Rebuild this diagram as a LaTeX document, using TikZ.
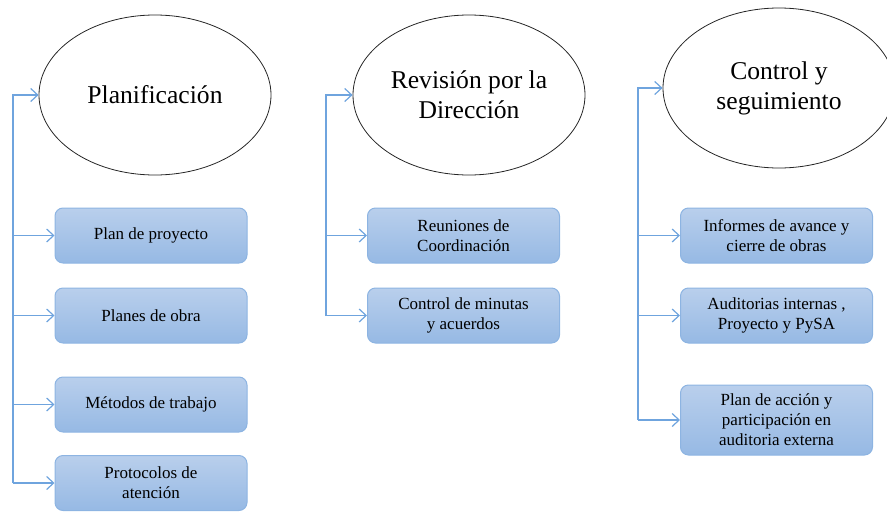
\documentclass[tikz,border=0pt]{standalone}
\usepackage{fontspec}
\setmainfont{Liberation Serif}
\usetikzlibrary{positioning, shapes.geometric, arrows.meta}
\definecolor{lineColor}{RGB}{111,164,222}
\definecolor{boxBorder}{RGB}{141,180,226}
\definecolor{boxTop}{RGB}{185,207,236}
\definecolor{boxBottom}{RGB}{150,185,228}
\tikzset{
  sheet/.style = {x = 1pt, y = -1pt},
  stageStyle/.style = {ellipse, draw=black!85, line width=.8pt, minimum width=232pt, minimum height=160pt, inner sep=0pt, align=center, font=\fontsize{25.6}{30}\selectfont},
  taskStyle/.style = {rectangle, draw=boxBorder, line width=1pt, rounded corners=8pt, top color=boxTop, bottom color=boxBottom, minimum width=192pt, minimum height=55pt, align=center, font=\fontsize{17}{20}\selectfont},
  spineLine/.style = {color=lineColor, line width=1.2pt},
  branchArrow/.style = {spineLine, -{Straight Barb[length=7pt, width=13pt]}}
}
\newcommand{\taskBox}[4]{\node [taskStyle] (#1) at (#2,#3) {#4};}
\newcommand{\branch}[2]{\draw [branchArrow] (#1 |- #2.west) -- (#2.west);}

\begin{document}
\begin{tikzpicture}[sheet]
        \useasboundingbox (0,0) rectangle (887,512);

        % Planificacion
        \node [stageStyle] (planif) at (155,95) {Planificación};
        \coordinate (spineA) at (13,483);
        \taskBox{planProy}{151}{235.5}{Plan de proyecto}
        \taskBox{planObra}{151}{315.5}{Planes de obra}
        \taskBox{metodos}{151}{404.5}{Métodos de trabajo}
        \taskBox{protocolos}{151}{483}{Protocolos de\\atención}
        \draw [branchArrow] (spineA) |- (planif.west);
        \branch{spineA}{planProy}
        \branch{spineA}{planObra}
        \branch{spineA}{metodos}
        \branch{spineA}{protocolos}

        % Revision por la Direccion
        \node [stageStyle] (revision) at (469,95) {Revisión por la\\Dirección};
        \coordinate (spineB) at (326,316);
        \taskBox{reuniones}{463.5}{235.5}{Reuniones de\\Coordinación}
        \taskBox{minutas}{463.5}{315.5}{Control de minutas\\y acuerdos}
        \draw [branchArrow] (spineB) |- (revision.west);
        \branch{spineB}{reuniones}
        \branch{spineB}{minutas}

        % Control y seguimiento
        \node [stageStyle] (control) at (779,88) {Control y\\seguimiento};
        \coordinate (spineC) at (638,420);
        \taskBox{informes}{776.5}{235.5}{Informes de avance y\\cierre de obras}
        \taskBox{auditorias}{776.5}{315.5}{Auditorias internas ,\\Proyecto y PySA}
        \node [taskStyle, minimum height=70pt] (planAccion) at (776.5,420) {Plan de acción y\\participación en\\auditoria externa};
        \draw [branchArrow] (spineC) |- (control.west);
        \branch{spineC}{informes}
        \branch{spineC}{auditorias}
        \branch{spineC}{planAccion}
      \end{tikzpicture}
\end{document}
